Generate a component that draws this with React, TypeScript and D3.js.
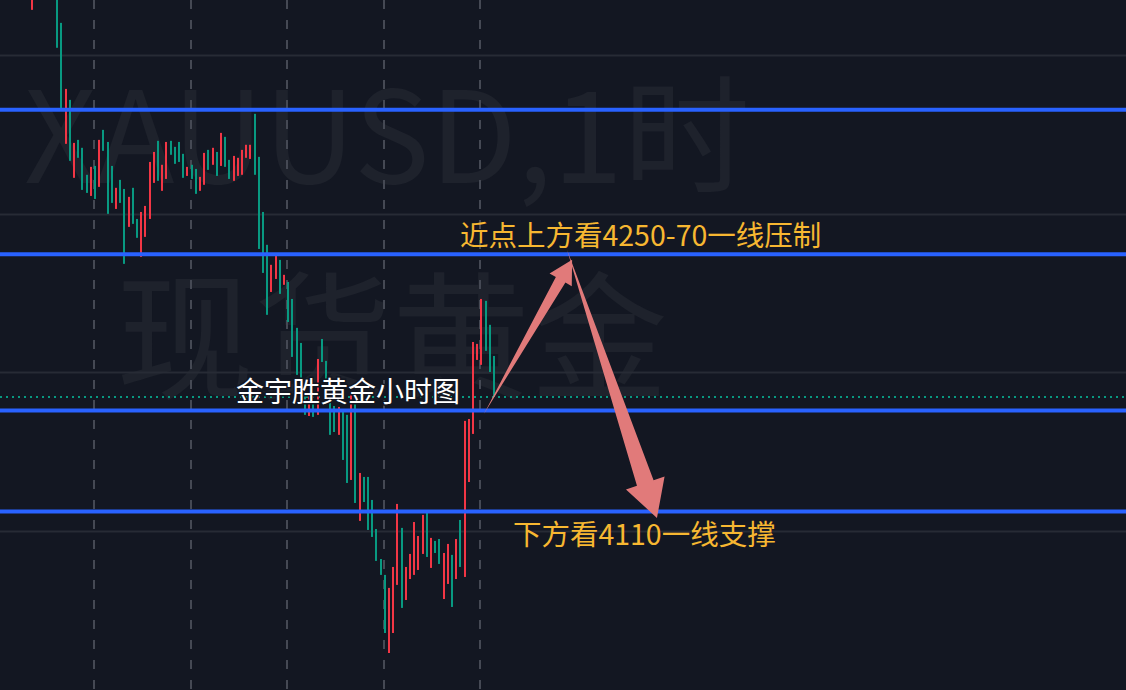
import React, { useEffect, useRef } from "react";
import * as d3 from "d3";

// XAUUSD 1h bars (bars 1-5 sit above the visible pane)
const highs = [
  4445, 4458, 4452, 4460, 4456, 4450, 4448, 4420.2, 4378.6, 4371.7,
  4344.6, 4346.5, 4341.5, 4324.5, 4329.5, 4330.1, 4346.5, 4352.8, 4345.2, 4330.1,
  4316.3, 4321.3, 4315.6, 4310.6, 4316.3, 4296.7, 4301.1, 4304.9, 4332.6, 4338.9,
  4345.9, 4330.8, 4345.2, 4345.9, 4342.1, 4345.2, 4337.7, 4329.5, 4330.8, 4328.2,
  4323.2, 4338.3, 4340.2, 4341.5, 4338.9, 4350.9, 4348.4, 4333.9, 4336.4, 4335.2,
  4340.2, 4343.4, 4343.4, 4362.9, 4335.8, 4301.1, 4280.4, 4267.8, 4273.4, 4270.9,
  4261.5, 4257.0, 4246.3, 4228.1, 4218.6, 4195.3, 4185.9, 4182.7, 4208.5, 4221.1,
  4207.3, 4184.6, 4178.9, 4178.3, 4176.4, 4173.3, 4185.9, 4180.8, 4136.7, 4134.2,
  4134.2, 4119.7, 4101.4, 4082.5, 4072.5, 4064.3, 4077.5, 4117.2, 4102.1, 4077.5,
  4085.7, 4105.8, 4097.0, 4110.3, 4112.1, 4095.8, 4093.9, 4095.1, 4086.3, 4092.0,
  4085.1, 4095.1, 4107.1, 4169.5, 4170.7, 4219.2, 4218.0, 4246.3, 4245.1, 4230.0,
  4210.4,
];
const lows = [
  4428.4, 4440, 4437, 4445, 4441, 4436, 4404.5, 4365.4, 4344.0, 4333.3,
  4322.6, 4335.2, 4315.0, 4313.1, 4311.2, 4309.3, 4316.9, 4339.6, 4299.9, 4306.8,
  4303.0, 4306.8, 4268.4, 4291.7, 4293.6, 4284.8, 4272.8, 4285.4, 4296.7, 4319.4,
  4320.7, 4314.4, 4321.9, 4337.1, 4331.4, 4332.6, 4322.6, 4323.8, 4321.9, 4312.5,
  4314.4, 4318.2, 4327.6, 4330.8, 4323.8, 4330.1, 4329.5, 4321.9, 4320.7, 4323.8,
  4324.5, 4335.2, 4334.5, 4324.5, 4277.8, 4262.7, 4236.3, 4250.7, 4258.9, 4249.5,
  4255.2, 4231.8, 4209.8, 4198.5, 4190.9, 4173.3, 4172.6, 4172.0, 4173.3, 4206.6,
  4182.7, 4160.7, 4162.5, 4160.7, 4144.9, 4130.4, 4132.3, 4117.8, 4106.5, 4118.4,
  4100.8, 4096.4, 4081.3, 4072.5, 4035.9, 4023.3, 4035.9, 4066.2, 4051.7, 4056.7,
  4069.9, 4072.5, 4075.6, 4085.7, 4083.8, 4076.9, 4086.3, 4079.4, 4057.3, 4066.8,
  4052.3, 4069.9, 4077.5, 4071.2, 4131.0, 4161.3, 4207.9, 4204.8, 4213.6, 4200.3,
  4184.6,
];
// 1 = rising bar (drawn red in this colour scheme), 0 = falling (green)
const rising = [
  1, 1, 0, 0, 1, 1, 0, 0, 1, 0,
  1, 0, 0, 0, 1, 0, 1, 0, 0, 0,
  1, 0, 0, 1, 0, 0, 1, 1, 1, 1,
  0, 1, 1, 0, 0, 0, 0, 1, 0, 0,
  1, 1, 0, 1, 0, 1, 0, 0, 1, 1,
  1, 1, 1, 0, 0, 0, 0, 1, 1, 0,
  1, 0, 0, 0, 0, 0, 1, 0, 1, 0,
  0, 0, 0, 1, 0, 0, 1, 0, 1, 0,
  0, 0, 0, 0, 0, 1, 1, 1, 0, 1,
  1, 1, 1, 1, 0, 1, 0, 0, 1, 1,
  0, 1, 0, 1, 1, 1, 1, 1, 0, 0,
  0,
];

const gridPrices = [4100, 4200, 4300, 4400];
const sessionStarts = [15, 38, 61, 84, 107];
const levels = [4365.5, 4274.5, 4176, 4112.5];
const lastPrice = 4184.6;
const watermark = ["XAUUSD,1时", "现货黄金"];

const noteTexts = ["近点上方看4250-70一线压制", "下方看4110一线支撑", "金宇胜黄金小时图"];
const noteBars = [101.9, 114.5, 48.6];
const notePrices = [4279.5, 4091.5, 4181.5];

// arrows: [bar, price] tail -> tip
const arrowFrom = [[107.6, 4173.9], [127.4, 4277.2]];
const arrowTo = [[128.6, 4271], [148.8, 4108.4]];

const W = 1126;
const H = 690;
const FONT = "'Noto Sans CJK SC', 'Noto Sans', sans-serif";

function arrowPoints(x1, y1, x2, y2) {
  const dx = x2 - x1, dy = y2 - y1;
  const len = Math.hypot(dx, dy);
  const ux = dx / len, uy = dy / len;
  const nx = -uy, ny = ux;
  const hl = 0.13 * len, hw = 0.072 * len, sw = 0.031 * len;
  const bx = x2 - ux * hl, by = y2 - uy * hl;
  return [
    [x1, y1],
    [bx + nx * sw, by + ny * sw],
    [bx + nx * hw, by + ny * hw],
    [x2, y2],
    [bx - nx * hw, by - ny * hw],
    [bx - nx * sw, by - ny * sw],
  ];
}

export default function App() {
  const ref = useRef(null);

  useEffect(() => {
    const svg = d3.select(ref.current);
    svg.selectAll("*").remove();

    const x = d3.scaleLinear().domain([0, highs.length - 1]).range([32, 494]);
    const y = d3.scaleLinear().domain([4000, 4434.6]).range([H, 0]);

    svg.append("rect").attr("width", W).attr("height", H).attr("fill", "#131722");

    // watermark
    svg.append("g")
      .selectAll("text")
      .data(watermark)
      .enter()
      .append("text")
      .attr("x", (d, i) => (i === 0 ? 387 : 392))
      .attr("y", (d, i) => (i === 0 ? 183 : 388))
      .attr("text-anchor", "middle")
      .attr("font-family", FONT)
      .attr("font-size", (d, i) => (i === 0 ? 127 : 138))
      .attr("fill", "#1e222c")
      .text((d) => d);

    // grid
    svg.append("g")
      .selectAll("line")
      .data(gridPrices)
      .enter()
      .append("line")
      .attr("x1", 0)
      .attr("x2", W)
      .attr("y1", (d) => Math.round(y(d)) + 0.5)
      .attr("y2", (d) => Math.round(y(d)) + 0.5)
      .attr("stroke", "#272b35")
      .attr("stroke-width", 2);

    // session breaks
    svg.append("g")
      .selectAll("line")
      .data(sessionStarts)
      .enter()
      .append("line")
      .attr("x1", (d) => Math.round(x(d)) - 1)
      .attr("x2", (d) => Math.round(x(d)) - 1)
      .attr("y1", 0)
      .attr("y2", H)
      .attr("stroke", "#454954")
      .attr("stroke-width", 2)
      .attr("stroke-dasharray", "9,11");

    // last price line
    svg.append("line")
      .attr("x1", 0)
      .attr("x2", W)
      .attr("y1", y(lastPrice))
      .attr("y2", y(lastPrice))
      .attr("stroke", "#089981")
      .attr("stroke-width", 2)
      .attr("stroke-dasharray", "2,4");

    // candles
    svg.append("g")
      .selectAll("rect")
      .data(highs)
      .enter()
      .append("rect")
      .attr("x", (d, i) => Math.round(x(i)) - 1)
      .attr("y", (d) => y(d))
      .attr("width", 2)
      .attr("height", (d, i) => Math.max(1, y(lows[i]) - y(d)))
      .attr("fill", (d, i) => (rising[i] ? "#f23645" : "#089981"));

    // horizontal levels
    svg.append("g")
      .selectAll("line")
      .data(levels)
      .enter()
      .append("line")
      .attr("x1", 0)
      .attr("x2", W)
      .attr("y1", (d) => y(d))
      .attr("y2", (d) => y(d))
      .attr("stroke", "#2962ff")
      .attr("stroke-width", 4);

    // arrows
    svg.append("g")
      .selectAll("polygon")
      .data(arrowFrom)
      .enter()
      .append("polygon")
      .attr("points", (d, i) =>
        arrowPoints(x(d[0]), y(d[1]), x(arrowTo[i][0]), y(arrowTo[i][1]))
          .map((p) => p.join(","))
          .join(" ")
      )
      .attr("fill", "#e17a7a");

    // notes
    svg.append("g")
      .selectAll("text")
      .data(noteTexts)
      .enter()
      .append("text")
      .attr("x", (d, i) => x(noteBars[i]))
      .attr("y", (d, i) => y(notePrices[i]))
      .attr("font-family", FONT)
      .attr("font-size", (d, i) => (i === 2 ? 28 : 28.5))
      .attr("fill", (d, i) => (i === 2 ? "#ffffff" : "#f7b731"))
      .attr("stroke", (d, i) => (i === 2 ? "#131722" : "none"))
      .attr("stroke-width", 3)
      .attr("paint-order", "stroke")
      .text((d) => d);
  }, []);

  return (
    <div style={{ position: "fixed", left: 0, top: 0, width: W, height: H }}>
      <svg ref={ref} width={W} height={H} style={{ display: "block" }}></svg>
    </div>
  );
}
